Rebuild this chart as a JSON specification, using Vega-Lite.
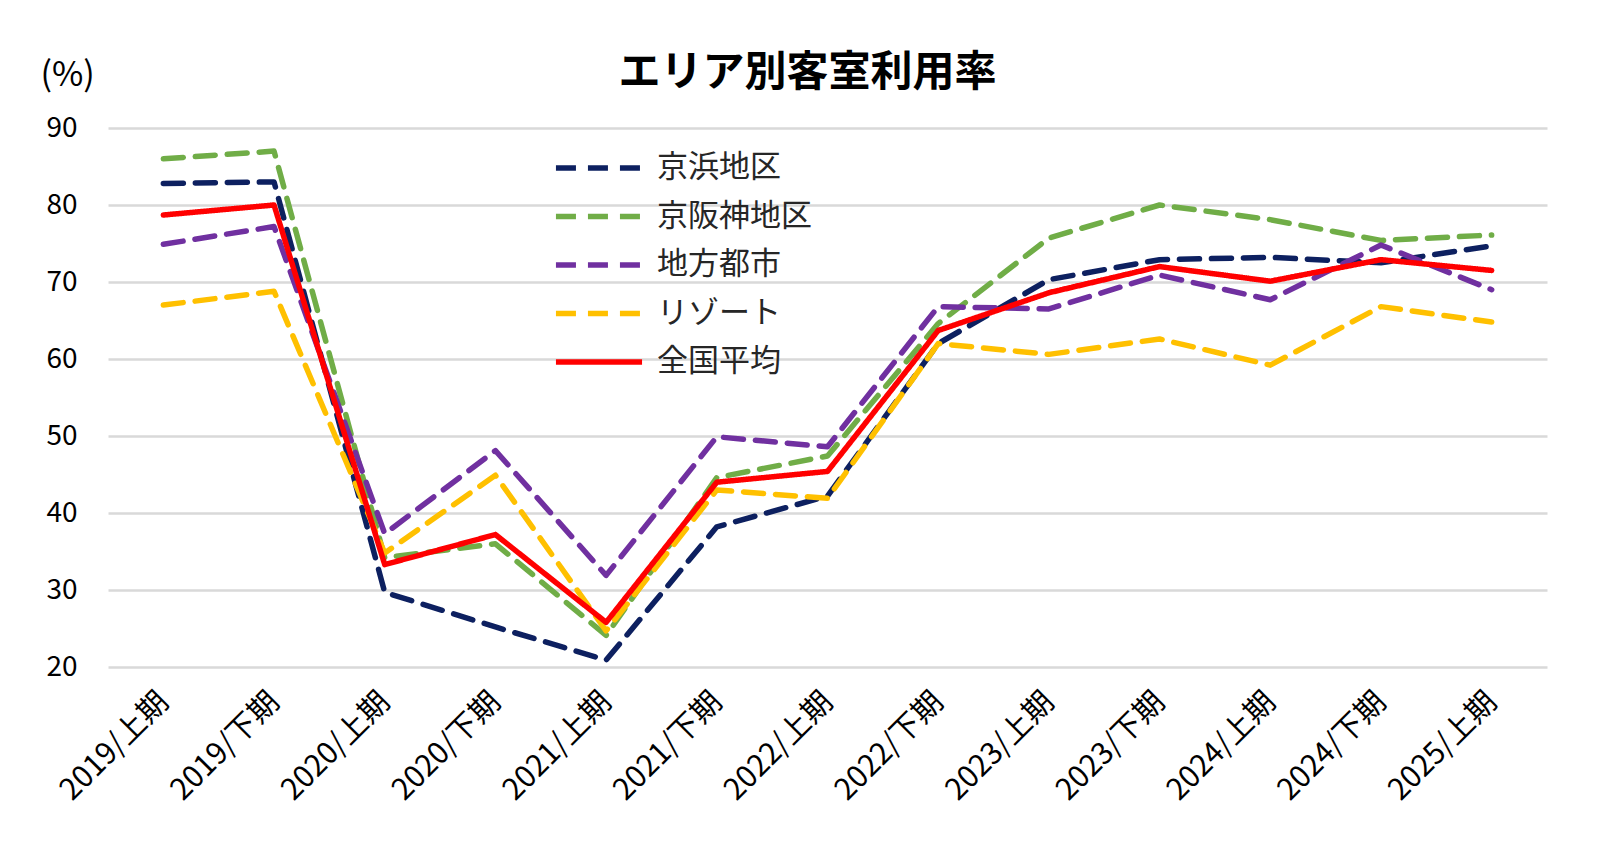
{
  "$schema": "https://vega.github.io/schema/vega-lite/v6.json",
  "width": 1439,
  "height": 539,
  "autosize": {"type": "none"},
  "padding": {"left": 108, "top": 128, "right": 53, "bottom": 188},
  "background": "white",
  "title": {
    "text": "エリア別客室利用率",
    "fontSize": 42,
    "fontWeight": "bold",
    "font": "Noto Sans CJK JP",
    "color": "#000000",
    "anchor": "middle",
    "offset": -37,
    "dx": -20
  },
  "config": {
    "font": "Noto Sans CJK JP",
    "view": {"stroke": null}
  },
  "data": {
    "values": [
      {"period": "2019/上期", "area": "京浜地区", "value": 82.8},
      {"period": "2019/下期", "area": "京浜地区", "value": 83.0},
      {"period": "2020/上期", "area": "京浜地区", "value": 29.7},
      {"period": "2020/下期", "area": "京浜地区", "value": 25.2},
      {"period": "2021/上期", "area": "京浜地区", "value": 20.9},
      {"period": "2021/下期", "area": "京浜地区", "value": 38.2},
      {"period": "2022/上期", "area": "京浜地区", "value": 42.2},
      {"period": "2022/下期", "area": "京浜地区", "value": 62.0},
      {"period": "2023/上期", "area": "京浜地区", "value": 70.3},
      {"period": "2023/下期", "area": "京浜地区", "value": 72.9},
      {"period": "2024/上期", "area": "京浜地区", "value": 73.2},
      {"period": "2024/下期", "area": "京浜地区", "value": 72.5},
      {"period": "2025/上期", "area": "京浜地区", "value": 74.7},
      {"period": "2019/上期", "area": "京阪神地区", "value": 86.0},
      {"period": "2019/下期", "area": "京阪神地区", "value": 87.0},
      {"period": "2020/上期", "area": "京阪神地区", "value": 34.2},
      {"period": "2020/下期", "area": "京阪神地区", "value": 36.0},
      {"period": "2021/上期", "area": "京阪神地区", "value": 24.1},
      {"period": "2021/下期", "area": "京阪神地区", "value": 44.6},
      {"period": "2022/上期", "area": "京阪神地区", "value": 47.4},
      {"period": "2022/下期", "area": "京阪神地区", "value": 64.6},
      {"period": "2023/上期", "area": "京阪神地区", "value": 75.7},
      {"period": "2023/下期", "area": "京阪神地区", "value": 80.0},
      {"period": "2024/上期", "area": "京阪神地区", "value": 78.1},
      {"period": "2024/下期", "area": "京阪神地区", "value": 75.4},
      {"period": "2025/上期", "area": "京阪神地区", "value": 76.1},
      {"period": "2019/上期", "area": "地方都市", "value": 74.9},
      {"period": "2019/下期", "area": "地方都市", "value": 77.2},
      {"period": "2020/上期", "area": "地方都市", "value": 37.3},
      {"period": "2020/下期", "area": "地方都市", "value": 48.1},
      {"period": "2021/上期", "area": "地方都市", "value": 31.9},
      {"period": "2021/下期", "area": "地方都市", "value": 49.9},
      {"period": "2022/上期", "area": "地方都市", "value": 48.6},
      {"period": "2022/下期", "area": "地方都市", "value": 66.8},
      {"period": "2023/上期", "area": "地方都市", "value": 66.5},
      {"period": "2023/下期", "area": "地方都市", "value": 70.9},
      {"period": "2024/上期", "area": "地方都市", "value": 67.7},
      {"period": "2024/下期", "area": "地方都市", "value": 74.8},
      {"period": "2025/上期", "area": "地方都市", "value": 69.0},
      {"period": "2019/上期", "area": "リゾート", "value": 67.0},
      {"period": "2019/下期", "area": "リゾート", "value": 68.8},
      {"period": "2020/上期", "area": "リゾート", "value": 34.8},
      {"period": "2020/下期", "area": "リゾート", "value": 44.9},
      {"period": "2021/上期", "area": "リゾート", "value": 24.7},
      {"period": "2021/下期", "area": "リゾート", "value": 43.0},
      {"period": "2022/上期", "area": "リゾート", "value": 41.9},
      {"period": "2022/下期", "area": "リゾート", "value": 62.0},
      {"period": "2023/上期", "area": "リゾート", "value": 60.6},
      {"period": "2023/下期", "area": "リゾート", "value": 62.6},
      {"period": "2024/上期", "area": "リゾート", "value": 59.2},
      {"period": "2024/下期", "area": "リゾート", "value": 66.8},
      {"period": "2025/上期", "area": "リゾート", "value": 64.8},
      {"period": "2019/上期", "area": "全国平均", "value": 78.7},
      {"period": "2019/下期", "area": "全国平均", "value": 80.0},
      {"period": "2020/上期", "area": "全国平均", "value": 33.3},
      {"period": "2020/下期", "area": "全国平均", "value": 37.2},
      {"period": "2021/上期", "area": "全国平均", "value": 25.8},
      {"period": "2021/下期", "area": "全国平均", "value": 44.0},
      {"period": "2022/上期", "area": "全国平均", "value": 45.4},
      {"period": "2022/下期", "area": "全国平均", "value": 63.7},
      {"period": "2023/上期", "area": "全国平均", "value": 68.6},
      {"period": "2023/下期", "area": "全国平均", "value": 72.0},
      {"period": "2024/上期", "area": "全国平均", "value": 70.1},
      {"period": "2024/下期", "area": "全国平均", "value": 72.9},
      {"period": "2025/上期", "area": "全国平均", "value": 71.5}
    ]
  },
  "mark": {"type": "line", "strokeCap": "round", "strokeJoin": "round"},
  "encoding": {
    "x": {
      "field": "period",
      "type": "nominal",
      "sort": ["2019/上期", "2019/下期", "2020/上期", "2020/下期", "2021/上期", "2021/下期", "2022/上期", "2022/下期", "2023/上期", "2023/下期", "2024/上期", "2024/下期", "2025/上期"],
      "axis": {
        "title": null,
        "domain": false,
        "ticks": false,
        "grid": false,
        "labelAngle": -45,
        "labelAlign": "right",
        "labelBaseline": "middle",
        "labelFontSize": 30,
        "labelColor": "#000000",
        "labelPadding": 30,
        "labelFont": "Noto Sans CJK JP"
      }
    },
    "y": {
      "field": "value",
      "type": "quantitative",
      "scale": {"domain": [20, 90], "nice": false, "zero": false},
      "axis": {
        "title": "(%)",
        "titleAngle": 0,
        "titleAlign": "left",
        "titleBaseline": "middle",
        "titleX": -68,
        "titleY": -53,
        "titleFontSize": 34,
        "titleFontWeight": "normal",
        "titleColor": "#000000",
        "values": [20, 30, 40, 50, 60, 70, 80, 90],
        "domain": false,
        "ticks": false,
        "labelFontSize": 28,
        "labelColor": "#000000",
        "labelPadding": 31,
        "gridColor": "#D9D9D9",
        "gridWidth": 2.5
      }
    },
    "color": {
      "field": "area",
      "type": "nominal",
      "scale": {
        "domain": ["京浜地区", "京阪神地区", "地方都市", "リゾート", "全国平均"],
        "range": ["#0D2060", "#70AD47", "#7030A0", "#FFC000", "#FF0000"]
      },
      "legend": {
        "title": null,
        "orient": "none",
        "legendX": 473,
        "legendY": 22,
        "direction": "vertical",
        "symbolType": "M-2.87,0H2.87",
        "symbolSize": 900,
        "symbolStrokeWidth": 5.5,
        "labelFontSize": 31,
        "labelColor": "#262626",
        "labelOffset": 40,
        "rowPadding": 15.5,
        "labelLimit": 400
      }
    },
    "strokeDash": {
      "field": "area",
      "type": "nominal",
      "scale": {
        "domain": ["京浜地区", "京阪神地区", "地方都市", "リゾート", "全国平均"],
        "range": [[20, 12], [20, 12], [20, 12], [20, 12], [1, 0]]
      },
      "legend": null
    },
    "strokeWidth": {
      "field": "area",
      "type": "nominal",
      "scale": {
        "domain": ["京浜地区", "京阪神地区", "地方都市", "リゾート", "全国平均"],
        "range": [5.5, 5.5, 5.5, 5.5, 6.5]
      },
      "legend": null
    }
  }
}
